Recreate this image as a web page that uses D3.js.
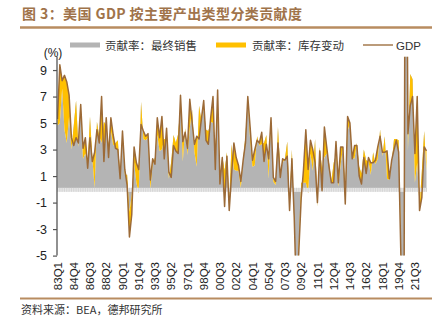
<!DOCTYPE html>
<html>
<head>
<meta charset="utf-8">
<script src="https://cdn.jsdelivr.net/npm/d3@7/dist/d3.min.js"></script>
<style>
  body { margin: 0; background: #fff; }
  text { font-family: "Liberation Sans", Arial, sans-serif; }
  .cjk { font-family: "Noto Sans CJK SC", "Noto Sans", sans-serif; }
</style>
</head>
<body>
<svg id="chart" width="444" height="323"></svg>
<script>
// Quarterly US real GDP growth (annualised, %) and contributions, 1983Q1–2022Q4
const years = d3.range(1983, 2023);
const quarters = years.flatMap(y => [1, 2, 3, 4].map(q => String(y % 100).padStart(2, "0") + "Q" + q));

const gdp = [
  5.3, 9.4, 8.2, 8.6,   8.1, 7.1, 3.9, 3.3,   3.9, 3.5, 6.4, 3.1,   3.9, 1.6, 3.9, 2.1,
  2.8, 4.5, 3.5, 7.0,   2.1, 5.4, 2.4, 5.4,   4.1, 3.1, 3.0, 0.8,   4.4, 1.5, 0.3, -3.6,
  -1.9, 3.2, 2.0, 1.5,  4.9, 4.4, 4.0, 4.2,   0.7, 2.3, 1.9, 5.4,   3.9, 5.5, 2.3, 4.6,
  1.3, 0.9, 3.3, 2.9,   2.7, 7.1, 3.6, 4.3,   3.1, 6.8, 5.1, 3.4,   4.0, 3.8, 5.3, 6.7,
  3.7, 3.4, 5.4, 7.0,   1.5, 7.5, 0.4, 2.4,   -1.3, 2.5, -1.6, 1.1, 3.5, 2.4, 1.8, 0.6,
  2.2, 3.5, 7.0, 4.7,   2.2, 3.0, 3.7, 3.5,   4.3, 2.1, 3.4, 2.3,   5.4, 0.9, 0.6, 3.5,
  0.9, 2.3, 2.2, 2.5,   -1.6, 2.3, -2.1, -8.5, -4.6, -0.7, 1.5, 4.5, 1.5, 3.7, 3.0, 2.0,
  -1.0, 2.9, -0.1, 4.7, 3.2, 1.7, 0.5, 0.5,   3.6, 0.5, 3.2, 3.2,   -1.1, 5.5, 5.0, 2.3,
  3.3, 3.3, 1.0, 0.4,   2.4, 1.2, 2.4, 2.0,   2.0, 2.2, 3.2, 4.0,   2.8, 2.8, 2.9, 0.8,
  2.2, 3.0, 3.7, 2.8,   -5.3, -29.9, 35.3, 4.2, 6.3, 7.0, 2.7, 7.0, -1.6, -0.6, 3.2, 2.9
];

// Contribution of final sales (percentage points)
const finalSales = [
  4.8, 5.0, 7.6, 4.5,   3.5, 5.5, 3.0, 4.8,   6.7, 3.2, 5.9, 2.3,   2.7, 1.8, 5.5, 2.4,
  0.1, 5.1, 4.0, 3.5,   5.1, 4.8, 3.4, 4.4,   3.3, 3.5, 3.7, 1.0,   4.1, 1.1, 1.1, -1.7,
  -0.4, 2.0, 0.5, -0.3, 6.6, 3.8, 3.7, 3.9,   0.0, 1.9, 2.4, 4.1,   2.9, 3.0, 3.8, 3.8,
  0.8, 2.1, 4.1, 3.5,   4.2, 6.5, 2.1, 4.6,   2.6, 4.6, 6.0, 2.8,   1.7, 6.3, 5.2, 6.1,
  4.5, 4.4, 5.1, 5.0,   3.3, 5.4, 0.7, 2.5,   1.4, 2.8, -0.8, 3.4,  1.5, 1.4, 1.4, 0.1,
  2.2, 4.1, 6.8, 3.7,   1.7, 1.8, 4.0, 3.3,   3.4, 3.5, 4.1, 0.8,   5.4, 0.6, 0.3, 4.7,
  1.4, 2.0, 2.3, 3.6,   -1.0, 3.0, -2.5, -7.6, -3.8, 0.5, 0.5, 0.5, -0.3, 2.7, 1.4, 3.8,
  -1.3, 3.2, 1.5, 2.4,  2.7, 2.0, 0.6, 2.0,   2.6, 0.2, 1.9, 3.1,   0.0, 4.4, 5.0, 2.4,
  2.3, 3.5, 1.7, 1.2,   3.0, 2.2, 2.1, 1.1,   2.8, 1.9, 2.3, 4.5,   2.5, 4.0, 0.8, 0.7,
  2.0, 3.8, 3.8, 3.7,   -3.9, -26.4, 28.7, 2.9, 8.7, 8.3, 0.5, 2.0, -1.3, 1.4, 4.4, 1.4
];

// Contribution of change in private inventories (percentage points)
const inventories = [
  0.5, 4.4, 0.6, 4.1,   4.6, 1.6, 0.9, -1.5,  -2.8, 0.3, 0.5, 0.8,  1.2, -0.2, -1.6, -0.3,
  2.7, -0.6, -0.5, 3.5, -3.0, 0.6, -1.0, 1.0, 0.8, -0.4, -0.7, -0.2, 0.3, 0.4, -0.8, -1.9,
  -1.5, 1.2, 1.5, 1.8,  -1.7, 0.6, 0.3, 0.3,  0.7, 0.4, -0.5, 1.3,  1.0, 2.5, -1.5, 0.8,
  0.5, -1.2, -0.8, -0.6, -1.5, 0.6, 1.5, -0.3, 0.5, 2.2, -0.9, 0.6, 2.3, -2.5, 0.1, 0.6,
  -0.8, -1.0, 0.3, 2.0, -1.8, 2.1, -0.3, -0.1, -2.7, -0.3, -0.8, -2.3, 2.0, 1.0, 0.4, 0.5,
  0.0, -0.6, 0.2, 1.0,  0.5, 1.2, -0.3, 0.2,  0.9, -1.4, -0.7, 1.5,  0.0, 0.3, 0.3, -1.2,
  -0.5, 0.3, -0.1, -1.1, -0.6, -0.7, 0.4, -0.9, -0.8, -1.2, 1.0, 4.0, 1.8, 1.0, 1.6, -1.8,
  0.3, -0.3, -1.6, 2.3, 0.5, -0.3, -0.1, -1.5, 1.0, 0.3, 1.3, 0.1,  -1.1, 1.1, 0.0, -0.1,
  1.0, -0.2, -0.7, -0.8, -0.6, -1.0, 0.3, 0.9, -0.8, 0.3, 0.9, -0.5, 0.3, -1.2, 2.1, 0.1,
  0.2, -0.8, -0.1, -0.9, -1.4, -3.5, 6.6, 1.3, -2.4, -1.3, 2.2, 5.0, -0.3, -2.0, -1.2, 1.5
];

const xTickLabels = ["83Q1","84Q4","86Q3","88Q2","90Q1","91Q4","93Q3","95Q2","97Q1","98Q4","00Q3",
  "02Q2","04Q1","05Q4","07Q3","09Q2","11Q1","12Q4","14Q3","16Q2","18Q1","19Q4","21Q3"];
const yTicks = [-5, -3, -1, 1, 3, 5, 7, 9];

const titleText = "图 3：美国 GDP 按主要产出类型分类贡献度";
const sourceText = "资料来源：BEA，德邦研究所";
const legendItems = [
  { label: "贡献率：最终销售", kind: "rect", color: "#b4b4b4" },
  { label: "贡献率：库存变动", kind: "rect", color: "#ffc000" },
  { label: "GDP", kind: "line", color: "#a57a4e" }
];

const rows = quarters.map((q, i) => ({ q, gdp: gdp[i], fs: finalSales[i], inv: inventories[i] }));

const svg = d3.select("#chart");
const x = d3.scalePoint().domain(quarters).range([57.5, 426.5]);
const y = d3.scaleLinear().domain([-5, 10]).range([255.6, 56.8]);

// Title and rules
svg.append("text").attr("class", "cjk")
  .attr("x", 22).attr("y", 19)
  .attr("font-size", 14).attr("font-weight", "bold").attr("fill", "#a0734a")
  .attr("textLength", 280).attr("lengthAdjust", "spacing")
  .text(titleText);
svg.append("line").attr("x1", 20).attr("x2", 432).attr("y1", 27.5).attr("y2", 27.5)
  .attr("stroke", "#b88c60").attr("stroke-width", 2.4);
svg.append("line").attr("x1", 20).attr("x2", 432).attr("y1", 298.5).attr("y2", 298.5)
  .attr("stroke", "#b88c60").attr("stroke-width", 2);
svg.append("text").attr("class", "cjk")
  .attr("x", 21).attr("y", 314).attr("font-size", 11).attr("fill", "#333")
  .text(sourceText);

// Plot
const defs = svg.append("defs");
defs.append("clipPath").attr("id", "plotClip").append("rect")
  .attr("x", 57).attr("y", y(10)).attr("width", 375).attr("height", y(-5) - y(10));

const plot = svg.append("g").attr("clip-path", "url(#plotClip)");

const grayArea = d3.area()
  .x(d => x(d.q)).y0(y(0)).y1(d => y(d.fs));
const yellowArea = d3.area()
  .x(d => x(d.q)).y0(d => y(d.fs)).y1(d => y(d.fs + d.inv));
const gdpLine = d3.line()
  .x(d => x(d.q)).y(d => y(d.gdp));

plot.append("path").datum(rows).attr("d", grayArea).attr("fill", "#b4b4b4");
plot.append("path").datum(rows).attr("d", yellowArea).attr("fill", "#ffc000");

// Category axis at zero
const zeroY = y(0);
plot.append("rect").attr("x", 57.5).attr("y", zeroY - 1.5)
  .attr("width", x(quarters[quarters.length - 1]) - 57.5).attr("height", 4)
  .attr("fill", "#e6e6e6");
plot.append("g").selectAll("line").data(quarters).join("line")
  .attr("x1", d => x(d)).attr("x2", d => x(d))
  .attr("y1", zeroY - 1.5).attr("y2", zeroY + 2.5)
  .attr("stroke", "#cfcfcf").attr("stroke-width", 0.8);

plot.append("path").datum(rows).attr("d", gdpLine)
  .attr("fill", "none").attr("stroke", "#9c6a37").attr("stroke-width", 1.5)
  .attr("stroke-linejoin", "round");

// Y axis (plain hyphen for negatives)
const yAxis = d3.axisLeft(y).tickValues(yTicks).tickSize(4).tickPadding(6)
  .tickFormat(d => String(d));
const yg = svg.append("g").attr("transform", "translate(57,0)").call(yAxis);
yg.select(".domain").remove();
yg.append("line").attr("x1", 0).attr("x2", 0).attr("y1", y(10)).attr("y2", y(-5))
  .attr("stroke", "#555").attr("stroke-width", 1.3);
yg.selectAll(".tick line").attr("stroke", "#555").attr("stroke-width", 1.2);
yg.selectAll(".tick text").attr("font-size", 12.5).attr("fill", "#222")
  .attr("font-family", "Liberation Sans, Arial, sans-serif");

svg.append("text").attr("x", 53).attr("y", 57).attr("text-anchor", "middle")
  .attr("font-size", 12).attr("fill", "#222").text("(%)");

// X tick labels (rotated)
svg.append("g").selectAll("text").data(xTickLabels).join("text")
  .attr("transform", d => `translate(${x(d)},262) rotate(-90)`)
  .attr("text-anchor", "end").attr("dy", "0.36em")
  .attr("font-size", 11.5).attr("fill", "#222")
  .text(d => d);

// Legend
const lg = svg.append("g");
const legendPos = [{ sx: 70, tx: 105 }, { sx: 216, tx: 252 }, { sx: 363, tx: 396 }];
legendItems.forEach((item, i) => {
  const p = legendPos[i];
  if (item.kind === "rect") {
    lg.append("rect").attr("x", p.sx).attr("y", 42.5).attr("width", 30).attr("height", 5)
      .attr("fill", item.color);
  } else {
    lg.append("line").attr("x1", p.sx).attr("x2", p.sx + 30).attr("y1", 45).attr("y2", 45)
      .attr("stroke", item.color).attr("stroke-width", 1.5);
  }
  lg.append("text").attr("class", item.kind === "rect" ? "cjk" : null)
    .attr("x", p.tx).attr("y", 49.5)
    .attr("font-size", 11.5).attr("fill", "#333")
    .text(item.label);
});
</script>
</body>
</html>
